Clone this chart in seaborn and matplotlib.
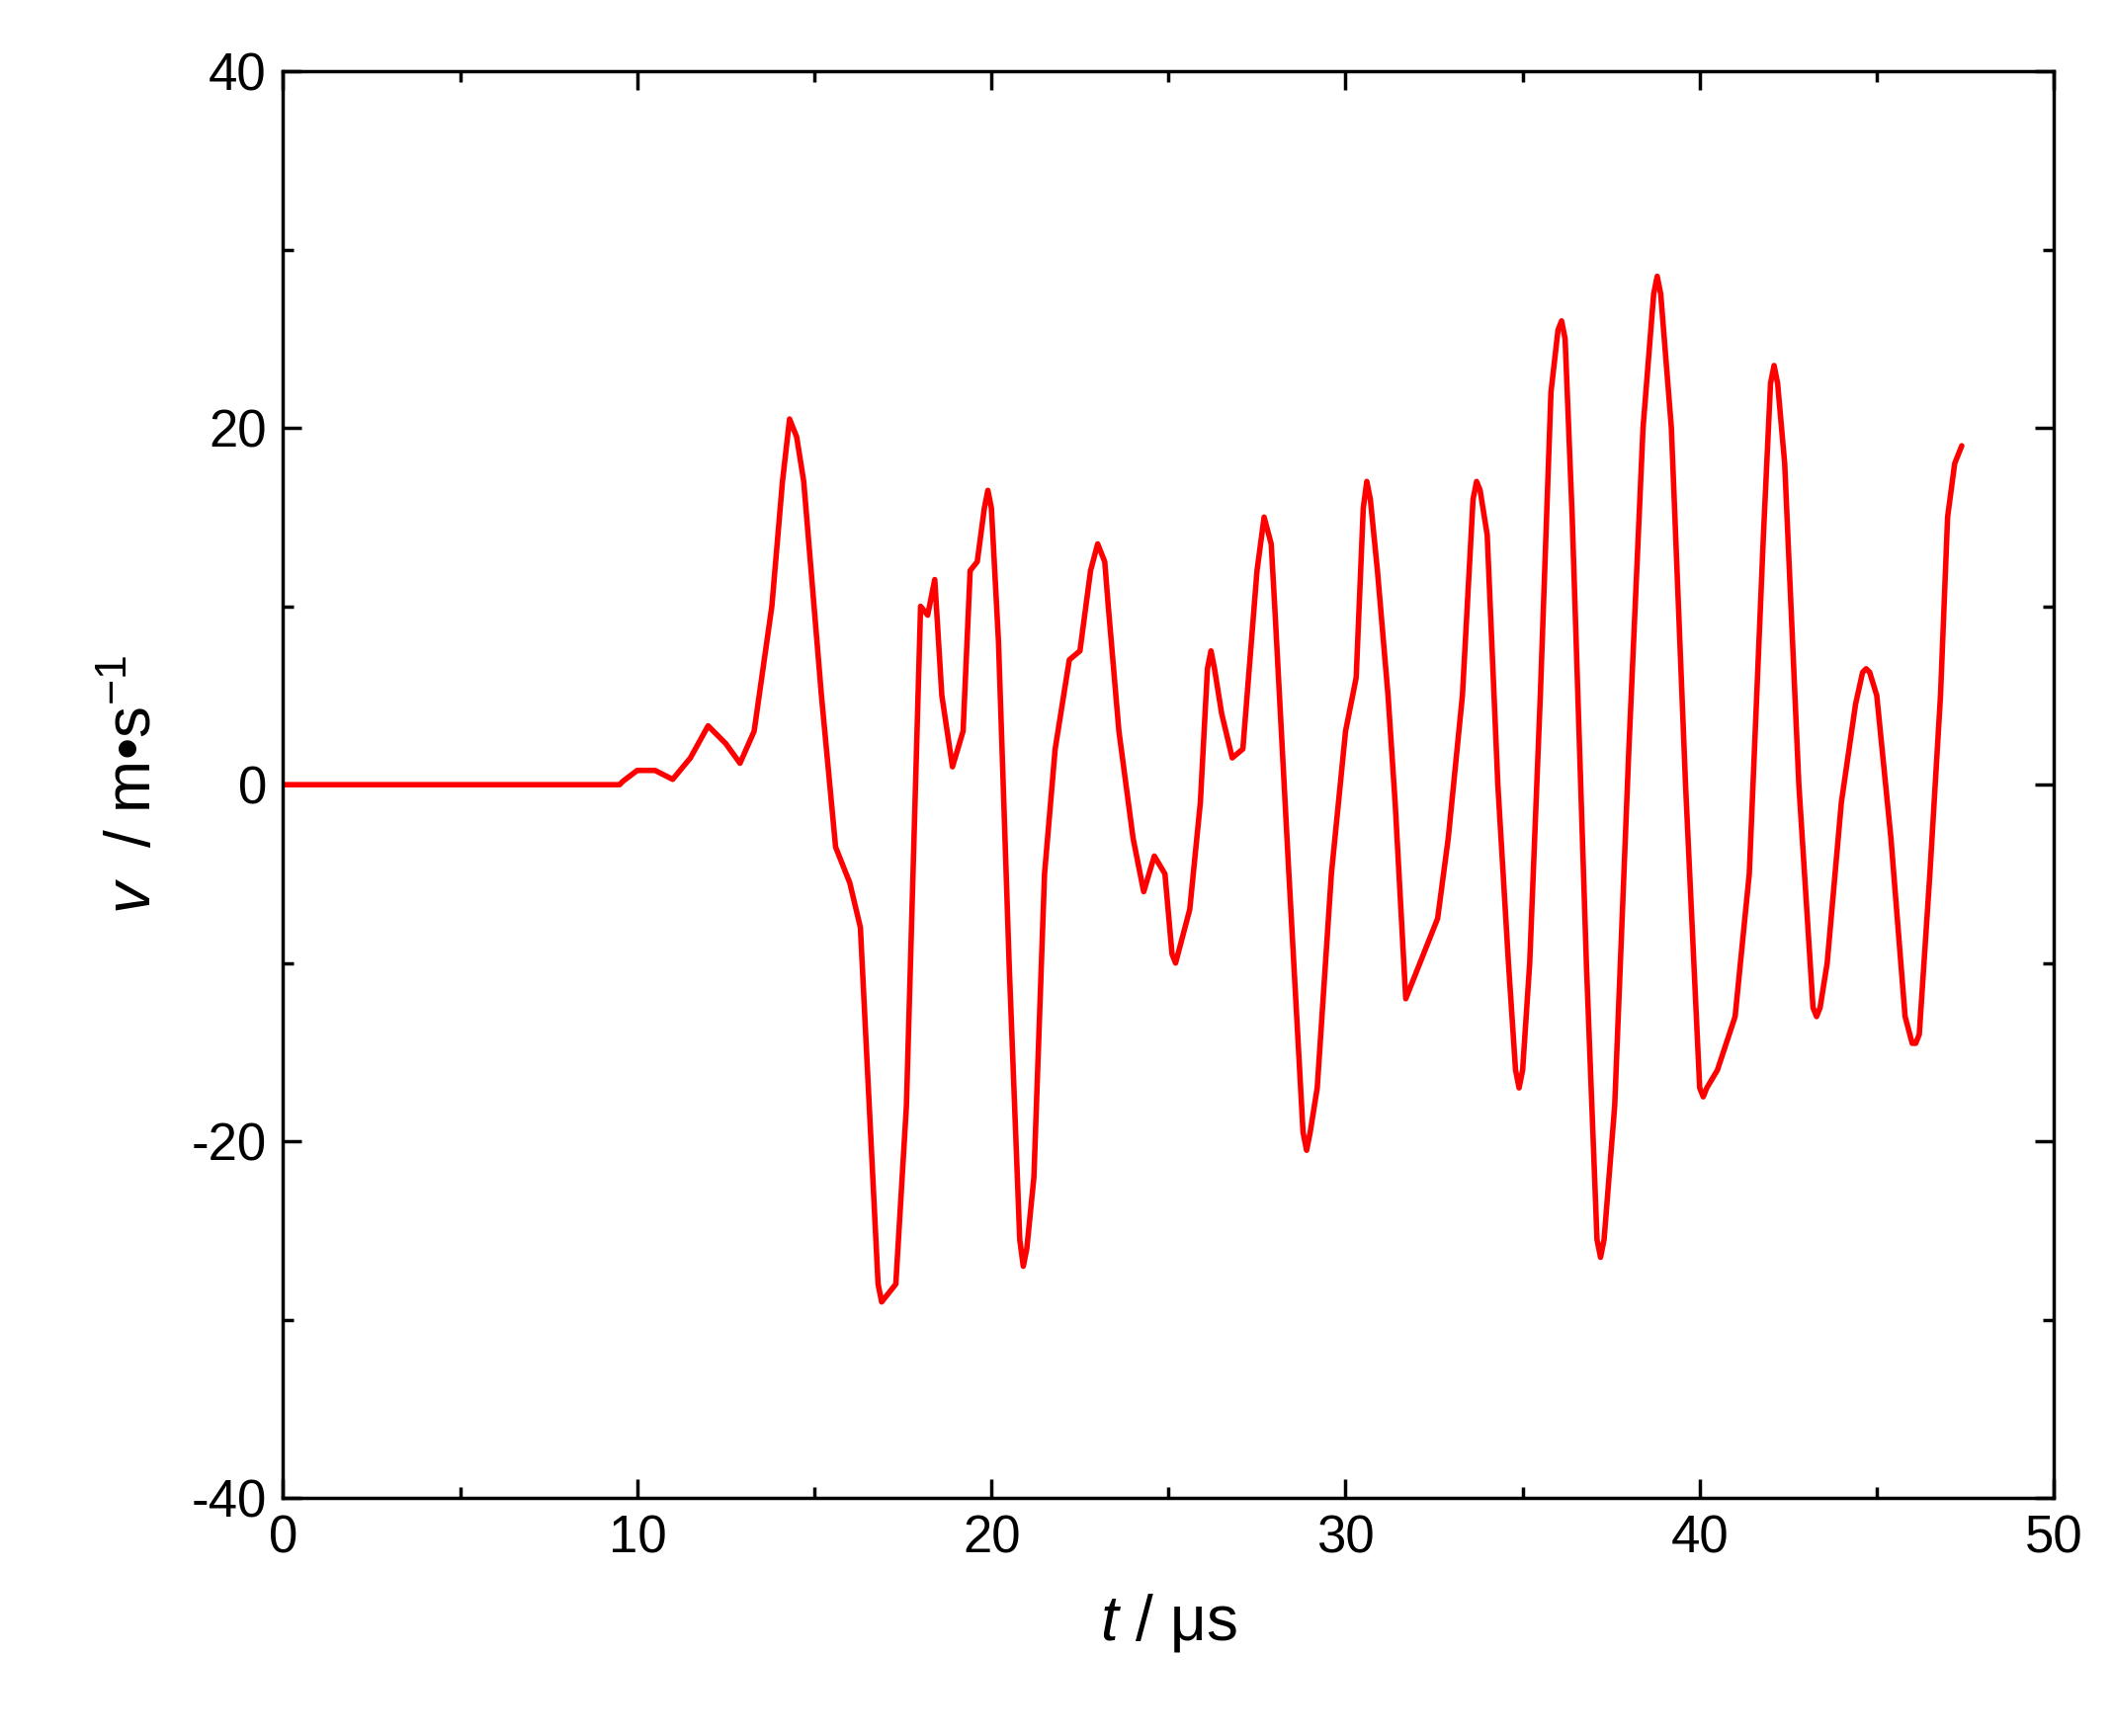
import matplotlib
matplotlib.use("Agg")
import matplotlib.pyplot as plt
import seaborn as sns
import pandas as pd
from matplotlib.ticker import MultipleLocator

t = [0, 9.5, 9.6, 10, 10.5, 11, 11.5, 12, 12.5, 12.9, 13.3, 13.8, 14.1, 14.3, 14.5, 14.7, 15.2, 15.6, 16, 16.3, 16.6, 16.8, 16.9, 17.3, 17.6,
     18, 18.2, 18.4, 18.6, 18.9, 19.2, 19.4, 19.6, 19.8, 19.9, 20.0, 20.2, 20.5, 20.8, 20.9, 21.0, 21.2, 21.5, 21.8, 22.2, 22.5, 22.8, 23, 23.2, 23.3, 23.6,
     24, 24.3, 24.6, 24.9, 25.1, 25.2, 25.6, 25.9, 26.1, 26.2, 26.3, 26.5, 26.8, 27.1, 27.5, 27.7, 27.9, 28, 28.4, 28.8, 28.9, 29.0, 29.2, 29.6, 30, 30.3,
     30.5, 30.6, 30.7, 30.9, 31.2, 31.4, 31.7, 32, 32.3, 32.6, 32.9, 33.3, 33.6, 33.7, 33.8, 34, 34.3, 34.6, 34.8, 34.9, 35.0, 35.2, 35.5, 35.8, 36.0, 36.1, 36.2, 36.4,
     36.8, 37.1, 37.2, 37.3, 37.6, 38, 38.4, 38.7, 38.8, 38.9, 39.2, 39.6, 40.0, 40.1, 40.2, 40.5, 41, 41.4, 41.8, 42.0, 42.1, 42.2, 42.4, 42.8, 43.2, 43.3, 43.4, 43.6, 44, 44.4,
     44.6, 44.7, 44.8, 45, 45.4, 45.8, 46.0, 46.1, 46.2, 46.5, 46.8, 47, 47.2, 47.4]
v = [0, 0, 0.2, 0.8, 0.8, 0.3, 1.5, 3.3, 2.3, 1.2, 3, 10, 17, 20.5, 19.5, 17, 5, -3.5, -5.5, -8, -20, -28, -29, -28, -18,
     10, 9.5, 11.5, 5, 1, 3, 12, 12.5, 15.5, 16.5, 15.5, 8, -10, -25.5, -27, -26, -22, -5, 2, 7, 7.5, 12, 13.5, 12.5, 10, 3,
     -3, -6, -4, -5, -9.5, -10, -7, -1, 6.5, 7.5, 6.5, 4, 1.5, 2, 12, 15, 13.5, 10, -5, -19.5, -20.5, -19.5, -17, -5, 3, 6,
     15.5, 17, 16, 12, 5, -1, -12, -10.5, -9, -7.5, -3, 5, 16, 17, 16.5, 14, 0, -10, -16, -17, -16, -10, 5, 22, 25.5, 26, 25, 15,
     -10, -25.5, -26.5, -25.5, -18, 2, 20, 27.5, 28.5, 27.5, 20, 0, -17, -17.5, -17, -16, -13, -5, 14, 22.5, 23.5, 22.5, 18, 0, -12.5, -13, -12.5, -10, -1, 4.5,
     6.3, 6.5, 6.3, 5, -3, -13, -14.5, -14.5, -14, -5, 5, 15, 18, 19]

df = pd.DataFrame({"t": t, "v": v})
sns.set_style("ticks")
plt.rcParams['font.family'] = ['Liberation Sans', 'DejaVu Sans']
plt.rcParams['axes.unicode_minus'] = False
plt.rcParams['mathtext.fontset'] = 'custom'
plt.rcParams['mathtext.it'] = 'Liberation Sans:italic'
plt.rcParams['mathtext.rm'] = 'Liberation Sans'
fig = plt.figure(figsize=(21.38, 17.57), dpi=100)
ax = fig.add_axes([0.134, 0.137, 0.838, 0.822])
sns.lineplot(data=df, x="t", y="v", color="#ff0000", linewidth=4, ax=ax)
ax.set_xlim(0, 50)
ax.set_ylim(-40, 40)
ax.xaxis.set_major_locator(MultipleLocator(10))
ax.xaxis.set_minor_locator(MultipleLocator(5))
ax.yaxis.set_major_locator(MultipleLocator(20))
ax.yaxis.set_minor_locator(MultipleLocator(10))
ax.tick_params(which="both", direction="in", top=True, right=True, width=2.5, labelsize=38, pad=12, colors="black")
ax.tick_params(which="major", length=14)
ax.tick_params(which="minor", length=8)
for s in ax.spines.values():
    s.set_linewidth(2.5)
    s.set_color("black")
ax.set_xlabel(r"$t$ / μs", fontsize=46, labelpad=20, color="black")
ax.set_ylabel(r"$v$  / m•s$^{-1}$", fontsize=46, labelpad=20, color="black")
fig.savefig("out.png", dpi=100)
